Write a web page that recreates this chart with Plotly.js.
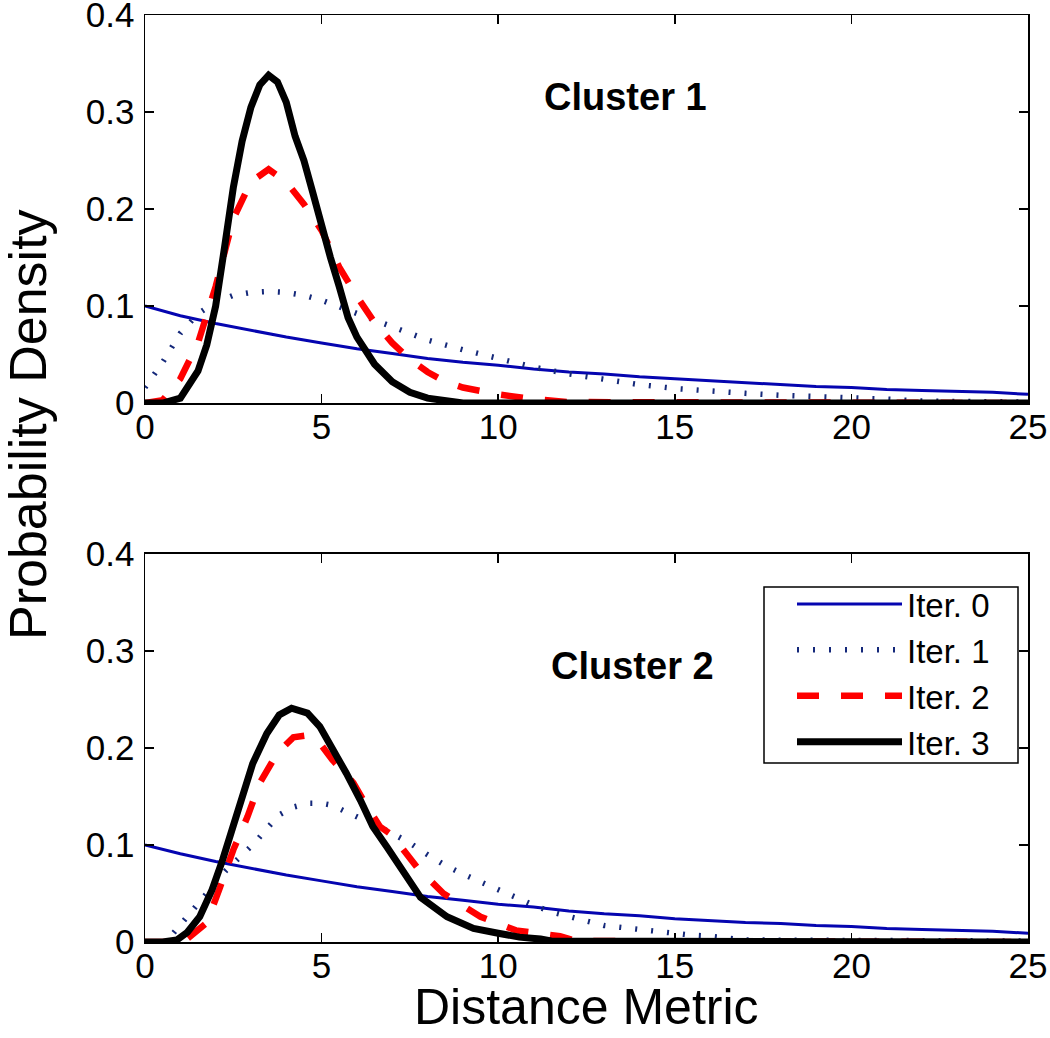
<!DOCTYPE html>
<html>
<head>
<meta charset="utf-8">
<script src="https://cdn.plot.ly/plotly-3.0.1.min.js"></script>
<style>html,body{margin:0;padding:0;background:#fff;}#chart{width:1050px;height:1038px;}</style>
</head>
<body>
<div id="chart"></div>
<script>
// ---------- data ----------
const seriesNames = ["Iter. 0", "Iter. 1", "Iter. 2", "Iter. 3"];
const panelTitles = ["Cluster 1", "Cluster 2"];
const xTicks = [0, 5, 10, 15, 20, 25];
const yTicks = [0, 0.1, 0.2, 0.3, 0.4];

// Cluster 1
const c1Iter0X = [0,1,2,3,4,5,6,7,8,9,10,11,12,13,14,15,16,17,18,19,20,21,22,23,24,25];
const c1Iter0Y = [0.100,0.090,0.082,0.075,0.068,0.062,0.056,0.051,0.046,0.042,0.039,0.035,0.032,0.030,0.027,0.025,0.023,0.021,0.019,0.017,0.016,0.014,0.013,0.012,0.011,0.009];
const c1Iter1X = [0,0.5,1,1.5,2,2.5,3,3.5,4,4.5,5,6,7,8,9,10,11,12,13,14,15,16,17,18,19,20,21,22,25];
const c1Iter1Y = [0.016,0.042,0.072,0.092,0.104,0.111,0.114,0.115,0.114,0.111,0.106,0.092,0.078,0.065,0.055,0.046,0.037,0.030,0.024,0.019,0.015,0.012,0.010,0.008,0.007,0.006,0.004,0.002,0.001];
const c1Iter2X = [0,0.5,1,1.5,2,2.5,3,3.5,4,4.5,5,5.5,6,6.5,7,7.5,8,8.5,9,10,11,12,25];
const c1Iter2Y = [0,0.003,0.025,0.062,0.120,0.190,0.228,0.241,0.228,0.205,0.178,0.140,0.110,0.083,0.062,0.045,0.032,0.022,0.016,0.009,0.004,0.001,0];
const c1Iter3X = [0,0.5,1,1.25,1.5,1.75,2,2.25,2.5,2.75,3,3.25,3.5,3.75,4,4.25,4.5,4.75,5,5.25,5.5,5.75,6,6.5,7,7.5,8,8.5,9,25];
const c1Iter3Y = [0,0,0.005,0.018,0.033,0.060,0.100,0.160,0.222,0.270,0.305,0.328,0.338,0.331,0.310,0.275,0.250,0.217,0.180,0.150,0.120,0.088,0.068,0.040,0.022,0.011,0.005,0.002,0,0];

// Cluster 2
const c2Iter0X = [0,1,2,3,4,5,6,7,8,9,10,11,12,13,14,15,16,17,18,19,20,21,22,23,24,25];
const c2Iter0Y = [0.100,0.091,0.083,0.076,0.069,0.063,0.057,0.052,0.047,0.043,0.039,0.036,0.032,0.029,0.027,0.024,0.022,0.020,0.019,0.017,0.016,0.014,0.013,0.012,0.011,0.009];
const c2Iter1X = [0,0.5,0.8,1.3,1.8,2.3,2.7,3.1,3.5,3.8,4.2,4.6,5,5.3,5.7,6.1,6.6,7,7.5,8,8.5,9,9.5,10,10.5,11,11.5,12,12.5,13,13.5,14,14.5,15,15.5,16,16.6,17,25];
const c2Iter1Y = [0,0,0.009,0.030,0.052,0.074,0.088,0.102,0.119,0.131,0.139,0.143,0.143,0.141,0.134,0.128,0.119,0.112,0.102,0.090,0.079,0.070,0.062,0.053,0.045,0.038,0.031,0.026,0.021,0.017,0.015,0.013,0.010,0.009,0.007,0.006,0.004,0.002,0.001];
const c2Iter2X = [0,1,1.15,1.75,2.1,2.5,2.9,3.25,3.75,4.2,4.6,4.95,5.3,5.9,6.3,6.65,7,7.7,8.45,9.5,10.5,11.75,12.2,25];
const c2Iter2Y = [0,0,0.002,0.020,0.054,0.095,0.129,0.164,0.195,0.211,0.213,0.205,0.188,0.164,0.139,0.119,0.110,0.077,0.050,0.026,0.012,0.006,0.001,0];
const c2Iter3X = [0,0.5,0.9,1.2,1.55,1.9,2.2,2.5,2.8,3.05,3.45,3.8,4.15,4.6,4.95,5.3,5.7,6.1,6.45,6.85,7.2,7.8,8.55,9.3,10,10.6,11.2,11.5,25];
const c2Iter3Y = [0,0,0.002,0.010,0.026,0.054,0.085,0.119,0.153,0.184,0.215,0.234,0.241,0.236,0.222,0.201,0.174,0.146,0.119,0.098,0.078,0.046,0.026,0.014,0.009,0.005,0.003,0.001,0];

// ---------- styles ----------
const styles = [
  {color: "#0505b0", width: 3, dash: "solid"},
  {color: "#14287a", width: 5.5, dash: "2px,14px"},
  {color: "#ff0000", width: 6.5, dash: "22px,22px"},
  {color: "#000000", width: 7, dash: "solid"}
];
const FONT = "Liberation Sans, Arial, Helvetica, sans-serif";

const panels = [
  {xs: [c1Iter0X, c1Iter1X, c1Iter2X, c1Iter3X], ys: [c1Iter0Y, c1Iter1Y, c1Iter2Y, c1Iter3Y], xa: "x", ya: "y", legend: false},
  {xs: [c2Iter0X, c2Iter1X, c2Iter2X, c2Iter3X], ys: [c2Iter0Y, c2Iter1Y, c2Iter2Y, c2Iter3Y], xa: "x2", ya: "y2", legend: true}
];

const traces = [];
panels.forEach(p => {
  for (let i = 0; i < 4; i++) {
    traces.push({
      type: "scatter", mode: "lines",
      x: p.xs[i], y: p.ys[i],
      xaxis: p.xa, yaxis: p.ya,
      name: seriesNames[i],
      showlegend: p.legend,
      line: {color: styles[i].color, width: styles[i].width, dash: styles[i].dash, shape: "linear"},
      hoverinfo: "skip"
    });
  }
});

function xAxis(anchor) {
  return {
    anchor: anchor, domain: [0, 1], range: [0, 25],
    tickmode: "array", tickvals: xTicks, ticktext: xTicks.map(String),
    ticks: "inside", ticklen: 9, tickwidth: 1.5, tickcolor: "#000",
    showline: true, linecolor: "#000", linewidth: 1.5, mirror: "ticks",
    showgrid: false, zeroline: false,
    tickfont: {family: FONT, size: 35, color: "#000"},
    ticklabelstandoff: -8, ticklabeloverflow: "allow"
  };
}
function yAxis(anchor, domain) {
  return {
    anchor: anchor, domain: domain, range: [0, 0.4],
    tickmode: "array", tickvals: yTicks, ticktext: yTicks.map(v => v === 0 ? "0" : v.toFixed(1)),
    ticks: "inside", ticklen: 9, tickwidth: 1.5, tickcolor: "#000",
    showline: true, linecolor: "#000", linewidth: 1.5, mirror: "ticks",
    showgrid: false, zeroline: false,
    tickfont: {family: FONT, size: 35, color: "#000"},
    ticklabelstandoff: 2, ticklabeloverflow: "allow"
  };
}

const layout = {
  width: 1050, height: 1038,
  margin: {l: 145, r: 22, t: 15, b: 96, pad: 0},
  paper_bgcolor: "#fff", plot_bgcolor: "#fff",
  showlegend: true,
  font: {family: FONT, color: "#000"},
  xaxis: xAxis("y"),
  yaxis: yAxis("x", [0.5814, 1]),
  xaxis2: xAxis("y2"),
  yaxis2: yAxis("x2", [0, 0.4186]),
  legend: {
    x: (995 - 145) / 883, xanchor: "right", y: (942 - 576) / 927, yanchor: "top",
    bgcolor: "rgba(0,0,0,0)", borderwidth: 0,
    font: {family: FONT, size: 33, color: "#000"},
    itemwidth: 105, traceorder: "normal", tracegroupgap: 0
  },
  shapes: [
    {type: "rect", xref: "paper", yref: "paper", layer: "above",
     x0: (764 - 145) / 883, x1: (1018 - 145) / 883,
     y0: (942 - 763) / 927, y1: (942 - 587) / 927,
     line: {color: "#000", width: 1.5}, fillcolor: "#fff"}
  ],
  annotations: [
    {text: "<b>" + panelTitles[0] + "</b>", xref: "x", yref: "y", x: 13.6, y: 0.315, showarrow: false,
     font: {family: FONT, size: 38, color: "#000"}, xanchor: "center", yanchor: "middle"},
    {text: "<b>" + panelTitles[1] + "</b>", xref: "x2", yref: "y2", x: 13.8, y: 0.285, showarrow: false,
     font: {family: FONT, size: 38, color: "#000"}, xanchor: "center", yanchor: "middle"},
    {text: "Probability Density", xref: "paper", yref: "paper", x: (28 - 145) / 883, y: (942 - 425) / 927, textangle: -90,
     showarrow: false, font: {family: FONT, size: 52, color: "#000"}, xanchor: "center", yanchor: "middle"},
    {text: "Distance Metric", xref: "paper", yref: "paper", x: 0.5, y: (942 - 1007) / 927,
     showarrow: false, font: {family: FONT, size: 50, color: "#000"}, xanchor: "center", yanchor: "middle"}
  ]
};

Plotly.newPlot("chart", traces, layout, {staticPlot: true, displayModeBar: false});
</script>
</body>
</html>
